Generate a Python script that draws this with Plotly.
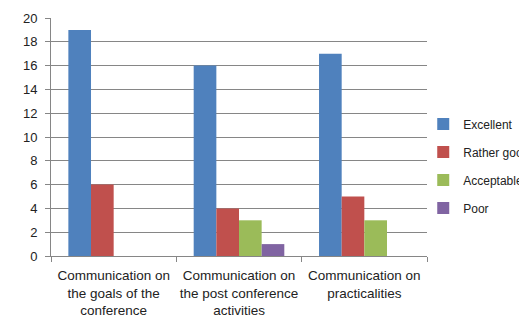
import plotly.graph_objects as go

categories = ["Communication on<br>the goals of the<br>conference",
              "Communication on<br>the post conference<br>activities",
              "Communication on<br>practicalities"]
series_names = ["Excellent", "Rather good", "Acceptable", "Poor"]
excellent = [19, 16, 17]
rather_good = [6, 4, 5]
acceptable = [0, 3, 3]
poor = [0, 1, 0]
colors = ["#4F81BD", "#C0504D", "#9BBB59", "#8064A2"]

fig = go.Figure()
for i, (name, vals) in enumerate(zip(series_names, [excellent, rather_good, acceptable, poor])):
    fig.add_trace(go.Bar(x=categories, y=vals, name=name, marker_color=colors[i],
                         marker_line_width=0, legendgroup=name))

font = dict(family="Liberation Sans", size=13.5, color="#222222")
fig.update_layout(
    width=519, height=326,
    margin=dict(l=51, r=92, t=18, b=70, autoexpand=False),
    paper_bgcolor="white", plot_bgcolor="white",
    barmode="group", bargap=0.277, bargroupgap=0,
    font=font,
    showlegend=True,
    legend=dict(x=0.99, y=0.378, yanchor="middle", xanchor="left",
                font=dict(family="Liberation Sans", size=12, color="#222222"),
                traceorder="grouped", tracegroupgap=9, itemwidth=30,
                bgcolor="rgba(0,0,0,0)"),
    xaxis=dict(showline=True, linecolor="#868686", linewidth=1,
               ticks="outside", tickson="boundaries", ticklen=5, tickcolor="#868686",
               showgrid=False, tickfont=font, tickangle=0, automargin=False,
               ticklabelstandoff=7),
    yaxis=dict(range=[0, 20], dtick=2, showline=True, linecolor="#868686", linewidth=1,
               ticks="outside", ticklen=5, tickcolor="#868686",
               showgrid=True, gridcolor="#868686", gridwidth=1, zeroline=False,
               automargin=False, ticklabelstandoff=5,
               tickfont=dict(family="Liberation Sans", size=13, color="#222222")),
)
fig.write_html("out.html")
